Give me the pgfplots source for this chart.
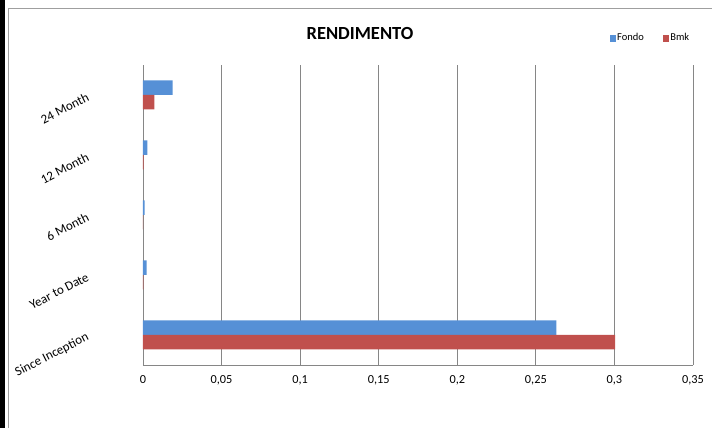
\documentclass[border=0pt]{standalone}
\usepackage{fontspec}
\setmainfont{Carlito}
\usepackage{pgfplots}
\pgfplotsset{compat=1.18}
\definecolor{fondo}{HTML}{5690D6}
\definecolor{bmk}{HTML}{C0504D}
\definecolor{gridc}{HTML}{868686}
\begin{document}
\begin{tikzpicture}
\useasboundingbox (0,0) rectangle (712pt,428pt);
\fill[black] (0,0) rectangle (5pt,428pt);
\draw[gray!75, line width=1.2pt] (8.5pt,-5pt) -- (8.5pt,419.5pt) -- (720pt,419.5pt);
\begin{axis}[
  at={(143pt,63pt)}, anchor=south west,
  scale only axis, width=550pt, height=300pt,
  xbar, bar width=14.5pt,
  xmin=0, xmax=0.35, ymin=-0.5, ymax=4.5,
  xtick={0,0.05,...,0.35},
  xticklabels={0,{0,05},{0,1},{0,15},{0,2},{0,25},{0,3},{0,35}},
  ytick={0,1,2,3,4},
  yticklabels={Since Inception, Year to Date, 6 Month, 12 Month, 24 Month},
  axis x line*=bottom, axis y line*=left,
  axis line style={gridc, line width=0.8pt, -},
  xmajorgrids, major grid style={gridc, line width=0.8pt},
  major tick length=0pt,
  tick style={draw=none},
  xticklabel style={font=\fontsize{12.3}{14}\selectfont, yshift=-7pt},
  yticklabel style={font=\fontsize{13}{15}\selectfont, xshift=-52pt, rotate=27, anchor=east},
  title={\fontsize{18.5}{21}\selectfont\bfseries RENDIMENTO},
  title style={at={(0.3945,1.084)}, anchor=center},
  legend style={draw=none, fill=none, at={(0.848,1.09)}, anchor=west,
    legend columns=2, font=\fontsize{10.5}{12}\selectfont,
    /tikz/every even column/.append style={column sep=18pt},
    inner sep=0pt, nodes={inner sep=1pt}},
  legend image code/.code={\fill[#1,draw=none] (0pt,-3.5pt) rectangle (6.5pt,3.5pt);},
]
\addplot[fill=fondo, draw=none, bar shift=7.25pt] coordinates {(0.263,0) (0.0023,1) (0.001,2) (0.0028,3) (0.0189,4)};
\addplot[fill=bmk, draw=none, bar shift=-7.25pt] coordinates {(0.3005,0) (0.0003,1) (0.0001,2) (0.0004,3) (0.0072,4)};
\legend{Fondo, Bmk}
\end{axis}
\end{tikzpicture}
\end{document}
